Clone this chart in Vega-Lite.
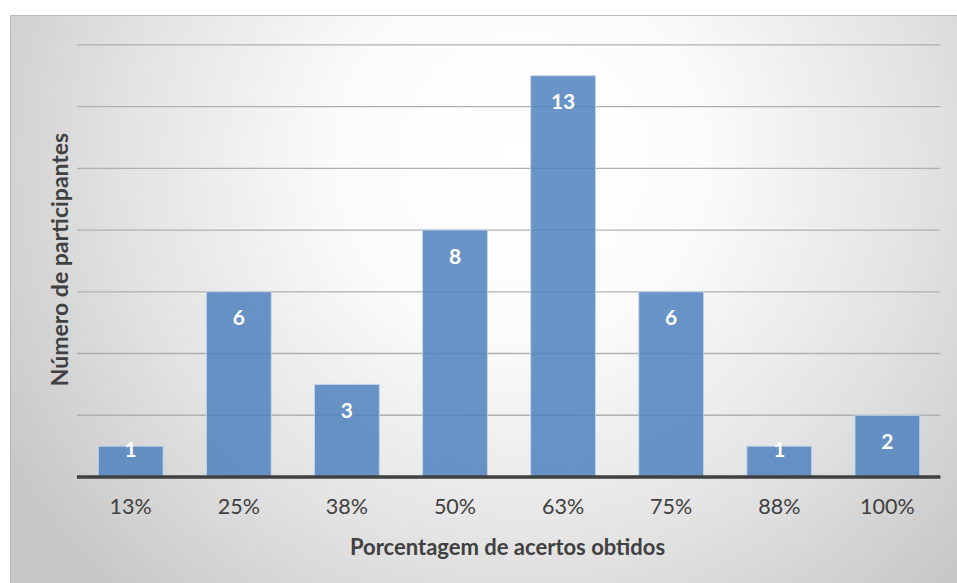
{
  "$schema": "https://vega.github.io/schema/vega-lite/v6.json",
  "width": 948,
  "height": 569,
  "autosize": {"type": "none"},
  "padding": {"left": 10, "top": 15, "right": 0, "bottom": 0},
  "background": "#ffffff",
  "config": {
    "font": "Lato",
    "view": {
      "stroke": "#b9b9b9",
      "strokeWidth": 1,
      "fill": {
        "gradient": "radial",
        "x1": 0.54, "y1": 0.35, "r1": 0,
        "x2": 0.54, "y2": 0.35, "r2": 0.64,
        "stops": [
          {"offset": 0, "color": "#ffffff"},
          {"offset": 0.3, "color": "#fbfbfb"},
          {"offset": 0.65, "color": "#e3e3e3"},
          {"offset": 1, "color": "#c6c6c6"}
        ]
      }
    }
  },
  "datasets": {
    "scores": [
      {"acertos": "13%", "participantes": 1},
      {"acertos": "25%", "participantes": 6},
      {"acertos": "38%", "participantes": 3},
      {"acertos": "50%", "participantes": 8},
      {"acertos": "63%", "participantes": 13},
      {"acertos": "75%", "participantes": 6},
      {"acertos": "88%", "participantes": 1},
      {"acertos": "100%", "participantes": 2}
    ],
    "grid": [
      {"acertos": "13%", "ate": "100%", "participantes": 0},
      {"acertos": "13%", "ate": "100%", "participantes": 2},
      {"acertos": "13%", "ate": "100%", "participantes": 4},
      {"acertos": "13%", "ate": "100%", "participantes": 6},
      {"acertos": "13%", "ate": "100%", "participantes": 8},
      {"acertos": "13%", "ate": "100%", "participantes": 10},
      {"acertos": "13%", "ate": "100%", "participantes": 12},
      {"acertos": "13%", "ate": "100%", "participantes": 14}
    ]
  },
  "encoding": {
    "x": {
      "field": "acertos",
      "type": "ordinal",
      "scale": {
        "domain": ["13%", "25%", "38%", "50%", "63%", "75%", "88%", "100%"],
        "paddingInner": 0.4,
        "paddingOuter": 0.585,
        "align": 0.698
      },
      "axis": {
        "orient": "bottom",
        "offset": -107,
        "domain": false,
        "ticks": false,
        "grid": false,
        "labelAngle": 0,
        "labelPadding": 30.5,
        "labelBaseline": "middle",
        "labelFont": "Lato",
        "labelFontSize": 21.5,
        "labelColor": "#404040",
        "title": "Porcentagem de acertos obtidos",
        "titleFont": "Lato",
        "titleFontSize": 22,
        "titleFontWeight": "bold",
        "titleColor": "#404040",
        "titleX": 497,
        "titleY": 70.5,
        "titleAlign": "center",
        "titleBaseline": "middle"
      }
    },
    "y": {
      "field": "participantes",
      "type": "quantitative",
      "scale": {"domain": [-3.466, 14.966], "nice": false, "zero": false},
      "axis": {
        "labels": false,
        "ticks": false,
        "domain": false,
        "grid": false,
        "title": "Número de participantes",
        "titleFont": "Lato",
        "titleFontSize": 23,
        "titleFontWeight": "bold",
        "titleColor": "#404040",
        "titleAngle": -90,
        "titleX": 50,
        "titleY": 244,
        "titleAlign": "center",
        "titleBaseline": "middle"
      }
    }
  },
  "layer": [
    {
      "data": {"name": "grid"},
      "transform": [{"filter": "datum.participantes > 0"}],
      "mark": {"type": "rule", "stroke": "#b0b0b0", "strokeWidth": 1.3},
      "encoding": {
        "x": {"field": "acertos", "type": "ordinal", "bandPosition": -0.328},
        "x2": {"field": "ate", "bandPosition": 1.318}
      }
    },
    {
      "data": {"name": "scores"},
      "mark": {
        "type": "bar",
        "fill": "#4f81bd",
        "fillOpacity": 0.85,
        "stroke": "#c3d5ec",
        "strokeWidth": 1
      },
      "encoding": {
        "y2": {"datum": 0}
      }
    },
    {
      "data": {"name": "grid"},
      "transform": [{"filter": "datum.participantes == 0"}],
      "mark": {"type": "rule", "stroke": "#404040", "strokeWidth": 3.3},
      "encoding": {
        "x": {"field": "acertos", "type": "ordinal", "bandPosition": -0.328},
        "x2": {"field": "ate", "bandPosition": 1.318}
      }
    },
    {
      "data": {"name": "scores"},
      "transform": [{"filter": "datum.participantes > 1"}],
      "mark": {
        "type": "text",
        "font": "Lato",
        "fontSize": 21,
        "fontWeight": "bold",
        "fill": "#ffffff",
        "baseline": "middle",
        "dy": 27.5
      },
      "encoding": {
        "text": {"field": "participantes", "type": "quantitative"}
      }
    },
    {
      "data": {"name": "scores"},
      "transform": [{"filter": "datum.participantes == 1"}],
      "mark": {
        "type": "text",
        "font": "Lato",
        "fontSize": 21,
        "fontWeight": "bold",
        "fill": "#ffffff",
        "baseline": "middle",
        "dy": 5
      },
      "encoding": {
        "text": {"field": "participantes", "type": "quantitative"}
      }
    }
  ]
}
